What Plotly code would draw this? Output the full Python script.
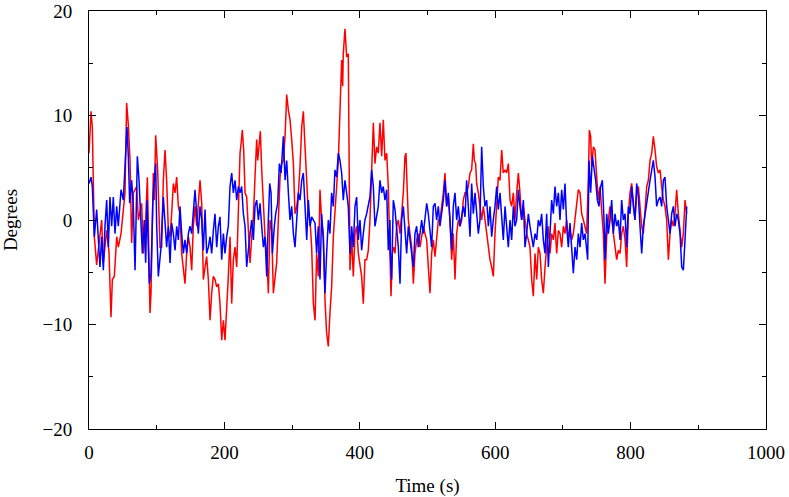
import plotly.graph_objects as go

# ---- red series (time s, degrees) ----
red_t = [0.0, 3.0, 4.9, 7.9, 11.3, 16.2, 18.7, 21.2, 26.1, 29.5, 32.5, 34.5, 37.4, 40.9, 43.3, 47.3, 50.7, 53.2, 55.6, 58.1,
         60.6, 62.0, 63.0, 65.5, 70.4, 72.9, 77.8, 80.3, 82.7, 86.2, 87.6, 90.1, 91.6, 95.0, 96.5, 98.5, 101.4, 104.9, 107.3, 109.8, 112.3,
         114.7, 117.2, 119.7, 122.1, 124.6, 127.1, 129.5, 132.0, 134.4, 136.9, 139.4, 141.8, 144.3, 146.8, 149.2, 151.7, 154.1, 156.6,
         159.1, 161.5, 164.0, 166.5, 168.9, 171.4, 173.8, 176.3, 178.8, 181.2, 183.7, 186.1, 188.6, 191.1, 193.5, 196.0, 198.5, 200.9,
         203.4, 205.8, 208.3, 210.8, 213.2, 215.7, 218.2, 220.6, 223.1,
         224.6, 226.5, 228.5, 230.5, 232.9, 235.4, 237.9, 240.3, 242.8, 245.2, 247.7, 249.2, 251.2, 253.1, 255.1, 257.6, 260.0, 262.5,
         264.9, 267.4, 269.9, 272.3, 274.8, 277.2, 279.7, 282.2, 284.6, 287.1, 289.6, 292.0, 294.5, 296.9, 299.4, 301.9, 304.3, 306.8,
         309.3, 311.7, 314.2, 316.6, 319.1, 321.6, 324.0, 326.5, 328.9, 331.4, 333.9,
         336.2, 338.7, 341.2, 343.6, 346.1, 348.6, 351.0, 353.5, 355.9, 358.4, 360.9, 363.3, 365.8, 368.3, 370.7, 373.2, 374.7, 375.6,
         378.1, 380.6, 383.0, 384.5, 385.5, 388.0, 390.4, 392.9, 395.3, 397.8, 400.3, 402.7, 405.2, 407.6, 410.1, 412.6, 415.0, 417.5,
         420.0, 422.4, 424.9, 427.3, 429.8, 432.3, 434.7, 437.2, 439.7, 442.1, 444.6,
         446.1, 448.0, 450.0, 452.0, 454.4, 456.9, 459.4, 461.8, 464.3, 466.7, 468.2, 470.2, 471.7, 474.1, 476.6, 479.1, 481.5, 484.0,
         486.4, 488.9, 491.4, 493.8, 496.3, 498.8, 501.2, 503.7, 506.1, 508.6, 511.1, 513.5, 516.0, 518.4, 520.9, 523.4, 525.8, 528.3,
         530.8, 533.2, 535.7, 538.1, 540.6, 543.1, 545.5, 548.0, 550.5, 552.9, 555.4,
         557.8, 560.3, 562.8, 565.2, 567.7, 569.2, 571.1, 572.6, 575.1, 577.5, 580.0, 582.5, 584.9, 587.4, 589.9, 592.3, 594.8, 597.2,
         599.7, 602.2, 604.6, 607.1, 609.6, 612.0, 614.5, 616.9, 619.4, 621.9, 624.3, 626.8, 629.2, 631.7, 634.2, 636.6, 639.1, 641.6,
         644.0, 646.5, 648.9, 651.4, 653.9, 656.3, 658.8, 661.3, 663.7, 666.2,
         668.6, 671.1, 673.6, 676.0, 678.5, 681.0, 683.4, 685.9, 688.3, 690.8, 693.3, 695.7, 698.2, 700.7, 703.1, 705.6, 708.0, 710.5,
         713.0, 715.4, 717.9, 720.4, 722.8, 725.3, 727.7, 730.2, 732.7, 735.1, 737.6, 739.1, 741.0, 742.5, 745.0, 747.4, 749.9, 752.4,
         754.8, 757.3, 759.7, 762.2, 764.7, 767.1, 769.6, 772.1, 774.5, 777.0,
         779.4, 781.9, 784.4, 786.8, 789.3, 791.8, 794.2, 796.7, 799.1, 801.6, 804.1, 806.5, 809.0, 811.5, 813.9, 816.4, 818.8, 821.3,
         823.8, 826.2, 828.7, 831.2, 833.6, 836.1, 838.5, 841.0, 843.5, 845.9, 848.4, 850.8, 853.3, 855.8, 858.2, 860.7, 863.2, 865.6,
         868.1, 870.5, 873.0, 875.5, 877.9, 880.4, 882.9]
red_v = [6.4, 10.4, 8.9, -1.6, -4.3, -1.6, 0.0, -4.1, -1.0, -3.0, -9.3, -5.7, -5.4, -1.6, -2.6, -1.3, 0.6, 2.6, 11.2, 9.1,
         5.7, 0.0, -2.2, 2.6, 3.2, 0.0, 1.6, -3.2, -1.6, 4.1, 0.3, -8.9, -7.0, 4.5, 1.9, 8.1, 4.8, -2.6, -2.6, 3.8, 6.7,
         3.8, -1.0, -1.6, 0.6, 3.5, 2.6, 4.1, 1.3, 0.6, -3.2, -4.5, -6.1, -3.2, -1.6, -2.6, -4.8, -0.6, 1.3,
         -0.6, 1.9, 3.8, 1.6, -5.7, -4.5, -3.5, -5.7, -9.6, -7.0, -5.4, -5.7, -6.4, -6.1, -8.0, -11.5, -9.6, -11.5,
         -8.9, -5.4, -1.6, -8.0, -3.8, -2.6, -4.5, 1.6, 6.4,
         7.3, 8.6, 6.7, 2.6, 2.2, -0.6, -4.1, -1.6, 0.3, 4.1, 7.7, 5.7, 7.0, 8.5, 4.8, 1.6, -1.6, -3.2,
         -7.0, 0.0, -1.0, -7.0, -5.4, -4.1, 0.0, 4.1, 5.4, 5.7, 8.0, 12.0, 10.5, 9.6, 7.7, 5.4, 0.6, 1.3,
         2.6, 5.1, 8.9, 10.4, 7.0, 3.2, 0.6, 0.0, -2.6, -8.0, -9.6,
         -3.2, -5.4, 2.9, 0.0, -1.3, -7.7, -10.8, -12.1, -8.9, -6.4, -1.6, 1.3, 3.2, 5.7, 11.2, 15.3, 12.8, 15.9,
         18.3, 15.6, 15.9, 6.4, -4.8, -1.6, -5.4, -1.3, -0.6, -3.2, -4.5, -5.4, -8.0, -3.8, -3.8, -2.9, 0.0, 5.7,
         9.3, 5.4, 7.0, 6.4, 9.3, 6.1, 9.6, 5.7, 6.4, 3.2, -3.2,
         -7.3, -3.2, -2.6, -3.2, -0.6, 0.0, -1.3, 0.6, 2.6, 6.1, 6.4, 2.6, 0.0, -1.3, -2.6, -6.1, -3.2, -1.9,
         -1.3, -2.6, -1.6, -0.6, -1.3, -1.9, -4.5, -7.0, -3.2, -1.9, -3.5, -1.3, 0.0, 0.0, 1.3, 2.6, 4.5, 1.3,
         2.2, 0.0, -3.8, -1.3, -5.7, -1.3, 0.0, -0.6, 0.0, 1.9, 2.6,
         2.6, 3.2, 4.5, 4.8, 7.3, 5.7, 5.4, 3.5, 2.6, 1.3, 0.0, 1.3, 0.0, -1.3, -2.6, -3.8, -4.5, -5.4,
         -1.3, 1.3, 4.1, 3.8, 6.7, 4.5, 4.8, 4.5, 5.4, 1.9, 1.3, 2.6, 0.0, 2.6, 4.5, 2.6, 0.0, 1.3,
         0.0, -1.3, -1.9, -2.6, -5.7, -7.3, -3.2, -5.7, -2.6, -3.2,
         -5.7, -7.0, -4.5, -2.6, -0.6, -3.2, -1.3, -1.9, -0.3, -3.2, -1.0, -1.3, -2.6, -0.6, -1.3, 0.0, -1.6, -1.0,
         -1.9, -1.3, 0.0, 1.3, 2.9, 2.6, 0.6, 0.0, -0.6, -1.3, 4.1, 8.6, 8.0, 5.1, 7.0, 6.7, 4.1, 1.9,
         3.2, 0.6, -1.3, -6.1, -1.6, 0.0, 1.3, 0.0, -1.3, -2.2,
         -3.8, -2.9, -3.2, -1.3, -0.6, -1.9, -4.5, 0.6, 2.6, 3.5, 1.3, 0.0, 2.6, 3.2, 1.3, -0.6, -1.3, 1.3,
         3.2, 3.8, 5.7, 6.4, 8.0, 6.7, 5.1, 4.5, 4.8, 3.2, 1.9, 1.3, 0.0, -3.8, -1.3, 0.0, -0.6, 0.6,
         2.9, 0.6, -1.3, -2.6, -1.3, 1.9, 0.6]

# ---- blue series (time s, degrees) ----
blue_t = [0.0, 3.0, 4.9, 7.9, 11.3, 13.8, 16.2, 18.7, 21.2, 23.6, 26.1, 28.6, 31.0, 33.5, 35.9, 38.4, 40.9, 43.3, 47.3, 50.7,
          53.2, 56.1, 58.1, 60.1, 63.0, 65.5, 68.0, 71.4, 73.9, 76.8, 78.8, 81.7, 83.7, 85.7, 89.1, 91.6, 94.5, 98.5, 100.0, 102.4,
          106.4, 109.8, 112.3,
          114.7, 117.2, 119.7, 122.1, 124.6, 127.1, 129.5, 132.0, 134.4, 136.9, 139.4, 141.8, 144.3, 146.8, 149.2, 151.7, 154.1, 156.6,
          159.1, 161.5, 164.0, 166.5, 168.9, 171.4, 173.8, 176.3, 178.8, 181.2, 183.7, 186.1, 188.6, 191.1, 193.5, 196.0, 198.5, 200.9,
          203.4, 205.8, 208.3, 210.8, 213.2, 215.7, 218.2, 220.6, 223.1,
          225.5, 228.0, 230.5, 232.9, 235.4, 237.9, 240.3, 242.8, 245.2, 247.7, 250.2, 252.6, 255.1, 257.6, 260.0, 262.5, 264.9, 266.9,
          268.9, 270.9, 273.8, 275.8, 278.7, 281.2, 283.7, 287.1, 289.6, 292.0, 294.5, 296.9, 299.4, 301.9, 304.3, 306.8, 309.3, 311.7,
          314.2, 316.6, 319.1, 321.6, 324.0, 326.5, 328.9, 331.4, 333.9,
          336.2, 338.7, 341.2, 343.6, 346.1, 348.6, 351.0, 353.5, 355.9, 358.4, 360.9, 363.3, 365.8, 368.3, 370.7, 373.2, 375.6, 378.1,
          380.6, 383.0, 385.5, 388.0, 390.4, 392.9, 395.3, 397.8, 400.3, 402.7, 405.2, 407.6, 410.1, 412.6, 415.0, 417.5, 420.0, 422.4,
          424.9, 427.3, 429.8, 432.3, 434.7, 437.2, 439.7, 442.1, 444.6,
          445.1, 447.0, 449.5, 452.0, 454.4, 456.9, 459.4, 461.8, 464.3, 466.7, 469.2, 471.7, 474.1, 476.6, 479.1, 481.5, 484.0, 486.4,
          488.9, 491.4, 493.8, 496.3, 498.8, 501.2, 503.7, 506.1, 508.6, 511.1, 513.5, 516.0, 518.4, 520.9, 523.4, 525.8, 528.3, 530.8,
          533.2, 535.7, 538.1, 540.6, 543.1, 545.5, 548.0, 550.5, 552.9, 555.4,
          557.8, 560.3, 562.8, 565.2, 567.7, 570.2, 572.6, 575.1, 577.5, 580.0, 582.5, 584.9, 587.4, 589.9, 592.3, 594.8, 597.2, 599.7,
          602.2, 604.6, 607.1, 609.6, 612.0, 614.5, 616.9, 619.4, 621.9, 624.3, 626.8, 629.2, 631.7, 634.2, 636.6, 639.1, 641.6, 644.0,
          646.5, 648.9, 651.4, 653.9, 656.3, 658.8, 661.3, 663.7, 666.2,
          668.6, 671.1, 673.6, 676.0, 678.5, 681.0, 683.4, 685.9, 688.3, 690.8, 693.3, 695.7, 698.2, 700.7, 703.1, 705.6, 708.0, 710.5,
          713.0, 715.4, 717.9, 720.4, 722.8, 725.3, 727.7, 730.2, 732.7, 735.1, 736.6, 738.6, 741.0, 743.5, 746.0, 748.4, 750.9, 753.3,
          755.8, 758.3, 760.7, 762.2, 764.7, 767.1, 769.6, 772.1, 774.5, 777.0,
          779.4, 781.9, 784.4, 786.8, 789.3, 791.8, 794.2, 796.7, 799.1, 801.6, 804.1, 806.5, 809.0, 811.5, 813.9, 816.4, 818.8, 821.3,
          823.8, 826.2, 828.7, 831.2, 833.6, 836.1, 838.5, 841.0, 843.5, 845.9, 848.4, 850.8, 853.3, 855.8, 858.2, 860.7, 863.2, 865.6,
          868.1, 870.5, 873.0, 875.5, 877.9, 880.4, 882.9]
blue_v = [3.5, 4.1, 3.2, -1.6, 1.0, -2.6, -4.5, -1.6, -4.8, -0.6, 1.9, -2.6, 2.2, -0.6, 2.2, -1.3, 1.3, -0.6, 2.9, 1.9,
          5.1, 8.9, 6.1, 1.6, 3.8, 1.3, -4.8, 6.1, 3.8, -0.6, -3.2, 0.0, -4.1, 1.9, -6.1, -5.1, 2.2, 5.4, -0.6, -5.4,
          -2.6, 2.2, 0.0,
          -2.6, -0.6, -4.1, -0.3, -1.3, -2.9, -0.6, -1.9, 1.3, -1.3, -3.2, -1.9, -3.2, -1.3, -0.6, -1.3, 1.3, 2.9,
          0.6, -1.3, 1.3, 0.0, -2.9, 1.0, -3.2, -2.6, -1.6, -3.2, -1.0, 0.6, -2.6, -0.6, 0.3, -3.8, -1.3, -3.2,
          -1.6, -0.6, 3.2, 4.5, 2.6, 3.8, 1.9, 3.2, 2.6,
          3.2, 0.6, -0.6, -4.5, -2.6, -1.3, 0.0, -1.9, 1.3, 1.9, 0.0, 1.6, -0.6, -2.6, -1.6, -5.4, 0.0, 3.5,
          2.6, -3.2, -0.6, 0.6, 1.6, 5.4, 4.5, 8.0, 3.8, 5.7, 2.6, 0.0, 1.3, -1.3, -2.6, 0.6, 2.6, 1.9,
          3.8, 4.5, 1.3, -1.9, 1.9, -0.6, 0.3, 0.0, -0.3,
          -3.2, -0.6, -5.7, 0.6, -1.9, -7.0, -3.2, 0.0, -1.3, 2.6, 1.3, 4.8, 4.1, 6.4, 5.7, 4.5, 1.9, 3.8,
          2.6, 1.3, -3.2, -0.6, -2.6, 1.3, 2.2, -1.9, 0.0, -2.9, -1.3, 0.0, 0.6, 1.3, 2.2, 4.8, 3.2, -0.6,
          0.6, 1.3, 3.8, 2.6, 3.2, 1.9, 2.9, -2.9, 0.0,
          -3.2, -5.7, 1.9, 1.0, -0.6, -2.6, -6.1, 0.0, 1.3, -1.3, -3.2, -0.6, -1.9, -3.2, -4.5, -1.3, -0.6, -2.6,
          -1.3, 0.0, -1.3, 0.0, 1.6, 0.6, -1.3, -2.6, 1.3, 1.6, 0.0, 1.3, -0.6, 0.6, 1.9, 3.8, 1.3, 2.6,
          0.0, -2.9, 1.3, 2.6, 0.0, 1.3, -0.6, 0.6, 1.3, 0.3,
          3.8, 1.3, -1.6, 3.5, 0.6, 2.6, 0.6, -1.3, 0.0, 7.0, 3.2, 1.3, 1.9, -0.6, 1.3, -1.6, 0.0, 1.3,
          3.2, 1.0, 2.6, 0.3, -1.9, 1.3, -0.6, -2.6, 0.0, -1.9, 1.3, -0.6, 0.0, 2.9, 1.3, 0.0, 1.9, -2.6,
          -1.3, 0.6, -0.6, -1.9, -2.6, -1.3, -1.9, 0.0, -0.6,
          0.6, -1.9, -3.2, 0.6, -4.5, -0.6, 1.9, 0.6, 3.2, 1.3, 2.6, 0.0, 2.9, 1.0, 3.5, -0.6, -2.6, -0.3,
          -3.2, -5.1, -2.6, -3.8, -1.3, -2.6, -0.3, -1.9, -1.3, -2.6, -3.8, 5.7, 2.6, 6.1, 5.1, 3.8, 1.9, 1.3,
          3.2, 3.8, 0.0, -3.8, 0.6, -1.3, 0.0, 1.9, -1.3, 0.6,
          -0.6, 0.0, -1.9, 1.9, 0.0, 0.6, -2.6, 1.3, 0.6, 3.2, 1.3, 0.0, 3.5, 2.2, -0.6, -3.2, -0.6, 0.6,
          1.3, 2.6, 3.8, 4.8, 5.7, 4.1, 1.3, 1.9, 2.2, 1.3, 3.8, 4.1, 1.3, 0.0, -1.3, 0.6, 1.3, -0.6,
          0.6, 0.0, -1.3, -4.5, -4.8, -1.9, 1.3]

x_ticks = [0, 200, 400, 600, 800, 1000]
y_ticks = [-20, -10, 0, 10, 20]

FONT = "Liberation Serif, Times New Roman, serif"
FS = 19

fig = go.Figure()
fig.add_trace(go.Scatter(x=red_t, y=red_v, mode="lines",
                         line=dict(color="#ff0000", width=1.5), showlegend=False))
fig.add_trace(go.Scatter(x=blue_t, y=blue_v, mode="lines",
                         line=dict(color="#0000ff", width=1.5), showlegend=False))

axis_common = dict(showgrid=False, zeroline=False, showline=True, linecolor="black",
                   linewidth=1, mirror="ticks", ticks="inside", ticklen=7, tickwidth=1,
                   tickcolor="black", automargin=False,
                   tickfont=dict(family=FONT, size=FS, color="black"))

fig.update_xaxes(range=[0, 1000], tickvals=x_ticks, ticklabelstandoff=6,
                 minor=dict(dtick=100, tick0=0, ticks="inside", ticklen=4, tickcolor="black"),
                 title=dict(text="Time (s)", font=dict(family=FONT, size=FS, color="black"), standoff=16),
                 **axis_common)
fig.update_yaxes(range=[-20, 20], tickvals=y_ticks, ticklabelstandoff=12,
                 minor=dict(dtick=5, tick0=0, ticks="inside", ticklen=4, tickcolor="black"),
                 title=dict(text="Degrees", font=dict(family=FONT, size=FS, color="black"), standoff=23),
                 **axis_common)

fig.update_layout(width=789, height=497, margin=dict(l=89, r=23, t=11, b=68),
                  plot_bgcolor="white", paper_bgcolor="white",
                  font=dict(family=FONT, color="black"))

fig.write_html("out.html", config={"displayModeBar": False})

# remove the browser's default page margin so the figure sits at the window's corner
with open("out.html", "r", encoding="utf-8") as f:
    html = f.read()
html = html.replace("<body>", '<body style="margin:0;padding:0;">', 1)
with open("out.html", "w", encoding="utf-8") as f:
    f.write(html)
